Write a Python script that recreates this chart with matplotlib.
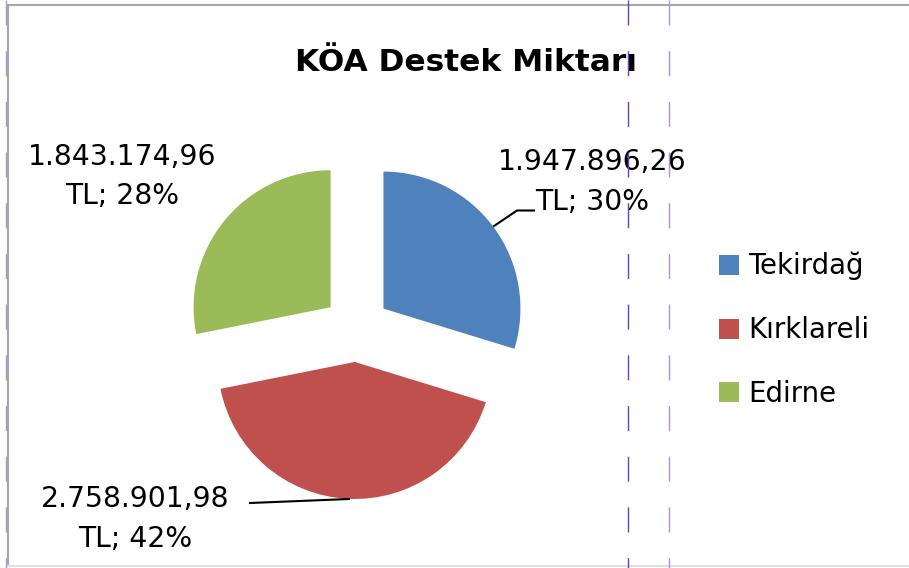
import matplotlib.pyplot as plt
from matplotlib.lines import Line2D

# ---- data ----
iller = ['Tekirdağ', 'Kırklareli', 'Edirne']
destek = [1947896.26, 2758901.98, 1843174.96]
renkler = ['#4F81BD', '#C0504D', '#9BBB59']
baslik = 'KÖA Destek Miktarı'

plt.rcParams['font.family'] = ['DejaVu Sans']


def tl_format(v):
    # 1947896.26 -> 1.947.896,26
    s = f'{v:,.2f}'
    return s.replace(',', 'X').replace('.', ',').replace('X', '.')


W, H = 909, 568
fig = plt.figure(figsize=(W / 100, H / 100), dpi=100)
ax = fig.add_axes([0, 0, 1, 1])

# pie in pixel-like data coords (y up); explode is in data units here
cx, cy, r = 356.5, H - 328.5, 137
wedges, _ = ax.pie(destek, colors=renkler, startangle=90, counterclock=False,
                   center=(cx, cy), radius=r, explode=[33.5] * 3,
                   wedgeprops=dict(linewidth=0))
ax.set_xlim(0, W)
ax.set_ylim(0, H)
ax.set_aspect('equal')
ax.axis('off')

toplam = sum(destek)
etiketler = [(tl_format(v), f'TL; {round(100 * v / toplam)}%') for v in destek]

# label positions: x center, baselines of the two lines (pixels from top)
konum = [(592, 170, 210), (135, 507, 547), (122, 165, 204)]
for (x, y1, y2), (s1, s2) in zip(konum, etiketler):
    ax.text(x, H - y1, s1, ha='center', va='baseline', fontsize=20.3)
    ax.text(x, H - y2, s2, ha='center', va='baseline', fontsize=20.3)

# leader lines
ax.plot([534, 517, 494], [H - 210.5, H - 210.5, H - 226], color='black', lw=1.5)
ax.plot([250, 349], [H - 503, H - 499], color='black', lw=1.5)

# title
ax.text(466, H - 71, baslik, ha='center', va='baseline', fontsize=22.5,
        fontweight='bold')

# legend
leg_y = [265, 329, 392]
for y, ad, c in zip(leg_y, iller, renkler):
    ax.add_patch(plt.Rectangle((719, H - y - 10), 20, 20, color=c, lw=0))
    ax.text(748, H - y - 9.5, ad, ha='left', va='baseline', fontsize=19.9)

# chart border (gray) and page guide lines (purple dashed)
gri = '#A6A6A6'
fig.add_artist(Line2D([8, W], [H - 5, H - 5], transform=None, color=gri, lw=1.5))
fig.add_artist(Line2D([8, 8], [H - 5, H - 565], transform=None, color=gri, lw=1.5))
fig.add_artist(Line2D([8, W], [H - 566, H - 566], transform=None, color='#E0E0E0', lw=1.5))
for x, c in [(6, '#A49AD6'), (628, '#6A3FB8'), (669, '#A993E0')]:
    fig.add_artist(Line2D([x, x], [H, 0], transform=None, color=c, lw=1,
                          linestyle=(0, (18, 18.5)), zorder=10))

fig.savefig('out.png', dpi=100)
